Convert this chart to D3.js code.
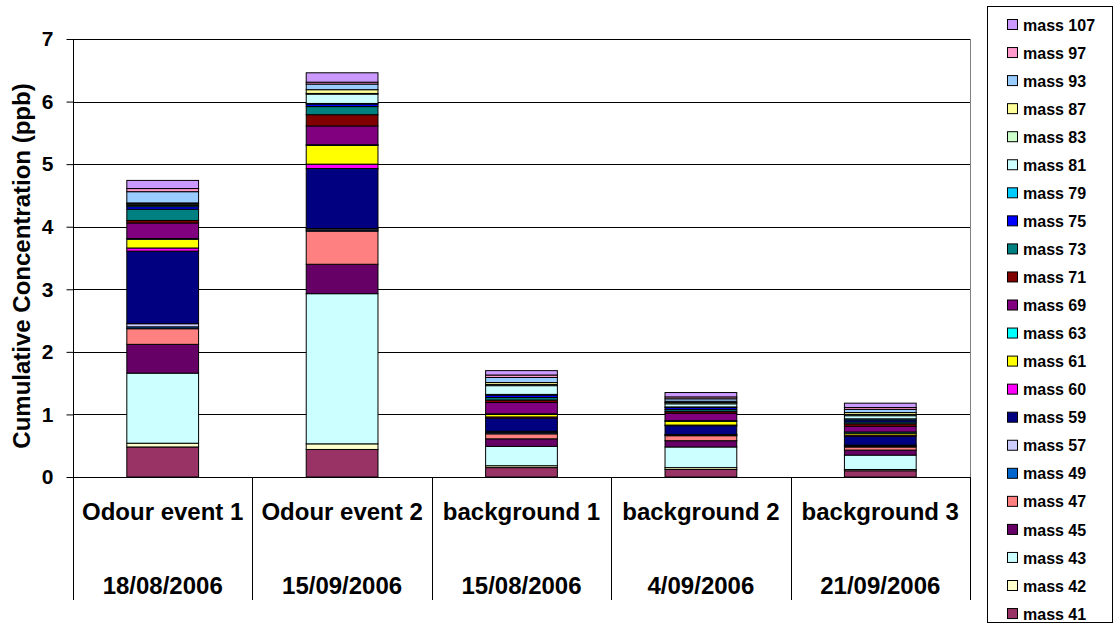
<!DOCTYPE html>
<html>
<head>
<meta charset="utf-8">
<script src="https://cdn.jsdelivr.net/npm/d3@7"></script>
<style>
  body { margin: 0; background: #fff; }
  svg { font-family: "Liberation Sans", Arial, sans-serif; }
</style>
</head>
<body>
<svg id="chart" width="1120" height="624"></svg>
<script>
// categories (two-level axis)
var categories = ["Odour event 1", "Odour event 2", "background 1", "background 2", "background 3"];
var dates = ["18/08/2006", "15/09/2006", "15/08/2006", "4/09/2006", "21/09/2006"];
var yTicks = [0, 1, 2, 3, 4, 5, 6, 7];

// series values, bottom of stack first
var m41  = [0.48, 0.44, 0.15, 0.12, 0.10];
var m42  = [0.06, 0.09, 0.03, 0.03, 0.02];
var m43  = [1.12, 2.40, 0.31, 0.33, 0.23];
var m45  = [0.46, 0.47, 0.12, 0.10, 0.08];
var m47  = [0.25, 0.53, 0.08, 0.08, 0.05];
var m49  = [0.03, 0.02, 0.02, 0.01, 0.015];
var m57  = [0.05, 0.02, 0.02, 0.01, 0.015];
var m59  = [1.16, 0.96, 0.21, 0.14, 0.14];
var m60  = [0.05, 0.07, 0.02, 0.01, 0.02];
var m61  = [0.14, 0.30, 0.04, 0.06, 0.03];
var m63  = [0.01, 0.01, 0.01, 0.01, 0.02];
var m69  = [0.25, 0.30, 0.18, 0.12, 0.09];
var m71  = [0.04, 0.18, 0.04, 0.03, 0.04];
var m73  = [0.18, 0.13, 0.04, 0.03, 0.03];
var m75  = [0.04, 0.04, 0.04, 0.03, 0.03];
var m79  = [0.02, 0.01, 0.01, 0.01, 0.02];
var m81  = [0.02, 0.15, 0.14, 0.05, 0.05];
var m83  = [0.01, 0.01, 0.02, 0.02, 0.02];
var m87  = [0.01, 0.06, 0.03, 0.02, 0.03];
var m93  = [0.18, 0.09, 0.08, 0.04, 0.05];
var m97  = [0.05, 0.03, 0.04, 0.03, 0.03];
var m107 = [0.13, 0.15, 0.07, 0.07, 0.07];

var seriesNames = ["mass 41", "mass 42", "mass 43", "mass 45", "mass 47", "mass 49", "mass 57",
  "mass 59", "mass 60", "mass 61", "mass 63", "mass 69", "mass 71", "mass 73", "mass 75",
  "mass 79", "mass 81", "mass 83", "mass 87", "mass 93", "mass 97", "mass 107"];
var seriesValues = [m41, m42, m43, m45, m47, m49, m57, m59, m60, m61, m63, m69, m71, m73, m75,
  m79, m81, m83, m87, m93, m97, m107];
var seriesColors = ["#993366", "#FFFFCC", "#CCFFFF", "#660066", "#FF8080", "#0066CC", "#CCCCFF",
  "#000080", "#FF00FF", "#FFFF00", "#00FFFF", "#800080", "#800000", "#008080", "#0000FF",
  "#00CCFF", "#CCFFFF", "#CCFFCC", "#FFFF99", "#99CCFF", "#FF99CC", "#CC99FF"];

var svg = d3.select("#chart"),
    pLeft = 73, pRight = 970, pTop = 39, pBottom = 477;

// build rows for d3.stack
var rows = categories.map(function(c, i) {
  var r = {cat: c};
  seriesNames.forEach(function(s, j) { r[s] = seriesValues[j][i]; });
  return r;
});
var stacked = d3.stack().keys(seriesNames)(rows);

var x = d3.scaleBand().domain(categories).range([pLeft, pRight]).padding(0);
var y = d3.scaleLinear().domain([0, 7]).range([pBottom, pTop]);
var barW = x.bandwidth() / 2.5;
var color = d3.scaleOrdinal().domain(seriesNames).range(seriesColors);

// gridlines
svg.append("g").selectAll("line")
  .data(yTicks.slice(1))
  .enter().append("line")
    .attr("x1", pLeft).attr("x2", pRight)
    .attr("y1", function(d) { return Math.round(y(d)) + 0.5; })
    .attr("y2", function(d) { return Math.round(y(d)) + 0.5; })
    .attr("stroke", "#000").attr("stroke-width", 1);

// plot area right border
svg.append("line")
  .attr("x1", pRight + 0.5).attr("x2", pRight + 0.5)
  .attr("y1", pTop).attr("y2", pBottom)
  .attr("stroke", "#808080");

// stacked bars
svg.append("g").selectAll("g")
  .data(stacked)
  .enter().append("g")
    .attr("fill", function(d) { return color(d.key); })
  .selectAll("rect")
  .data(function(d) { return d; })
  .enter().append("rect")
    .attr("x", function(d) { return x(d.data.cat) + (x.bandwidth() - barW) / 2; })
    .attr("width", barW)
    .attr("y", function(d) { return y(d[1]); })
    .attr("height", function(d) { return y(d[0]) - y(d[1]); })
    .attr("stroke", "#000")
    .attr("stroke-width", 1);

// y axis
var yAxis = svg.append("g")
  .attr("transform", "translate(" + (pLeft + 0.5) + ",0)")
  .call(d3.axisLeft(y).tickValues(yTicks).tickSize(7).tickPadding(13).tickFormat(d3.format("d")));
yAxis.select(".domain").remove();
yAxis.selectAll("line").attr("stroke", "#000");
yAxis.selectAll("text")
  .style("font-size", "21px").style("font-weight", "bold")
  .style("font-family", "'Liberation Sans', Arial, sans-serif").attr("fill", "#000");

// left axis line extends through the category labels
svg.append("line")
  .attr("x1", pLeft + 0.5).attr("x2", pLeft + 0.5)
  .attr("y1", pTop).attr("y2", 600)
  .attr("stroke", "#000");

// x baseline
svg.append("line")
  .attr("x1", pLeft).attr("x2", pRight)
  .attr("y1", pBottom + 0.5).attr("y2", pBottom + 0.5)
  .attr("stroke", "#000");

// category separators
var bounds = categories.map(function(c) { return x(c); }).concat([pRight]);
svg.append("g").selectAll("line")
  .data(bounds.slice(1))
  .enter().append("line")
    .attr("x1", function(d) { return Math.round(d) + 0.5; })
    .attr("x2", function(d) { return Math.round(d) + 0.5; })
    .attr("y1", pBottom).attr("y2", 600)
    .attr("stroke", "#000");

// category labels
svg.append("g").selectAll("text")
  .data(categories)
  .enter().append("text")
    .attr("x", function(d) { return x(d) + x.bandwidth() / 2; })
    .attr("y", 520)
    .attr("text-anchor", "middle")
    .style("font-size", "24px").style("font-weight", "bold")
    .text(function(d) { return d; });

svg.append("g").selectAll("text")
  .data(dates)
  .enter().append("text")
    .attr("x", function(d, i) { return x(categories[i]) + x.bandwidth() / 2; })
    .attr("y", 594)
    .attr("text-anchor", "middle")
    .style("font-size", "24px").style("font-weight", "bold")
    .text(function(d) { return d; });

// y axis title
svg.append("text")
  .attr("transform", "translate(30,266) rotate(-90)")
  .attr("text-anchor", "middle")
  .style("font-size", "24px").style("font-weight", "bold")
  .text("Cumulative Concentration (ppb)");

// legend
svg.append("rect")
  .attr("x", 987.5).attr("y", 6.5)
  .attr("width", 125).attr("height", 616)
  .attr("fill", "#fff").attr("stroke", "#000");

var legend = svg.append("g")
  .selectAll("g")
  .data(seriesNames.slice().reverse())
  .enter().append("g")
    .attr("transform", function(d, i) { return "translate(0," + (25 + i * 28.05) + ")"; });

legend.append("rect")
  .attr("x", 1007.5).attr("y", -5.5)
  .attr("width", 10).attr("height", 10)
  .attr("fill", function(d) { return color(d); })
  .attr("stroke", "#000");

legend.append("text")
  .attr("x", 1023)
  .attr("y", 0)
  .attr("dy", "0.35em")
  .style("font-size", "16px").style("font-weight", "bold")
  .text(function(d) { return d; });
</script>
</body>
</html>
